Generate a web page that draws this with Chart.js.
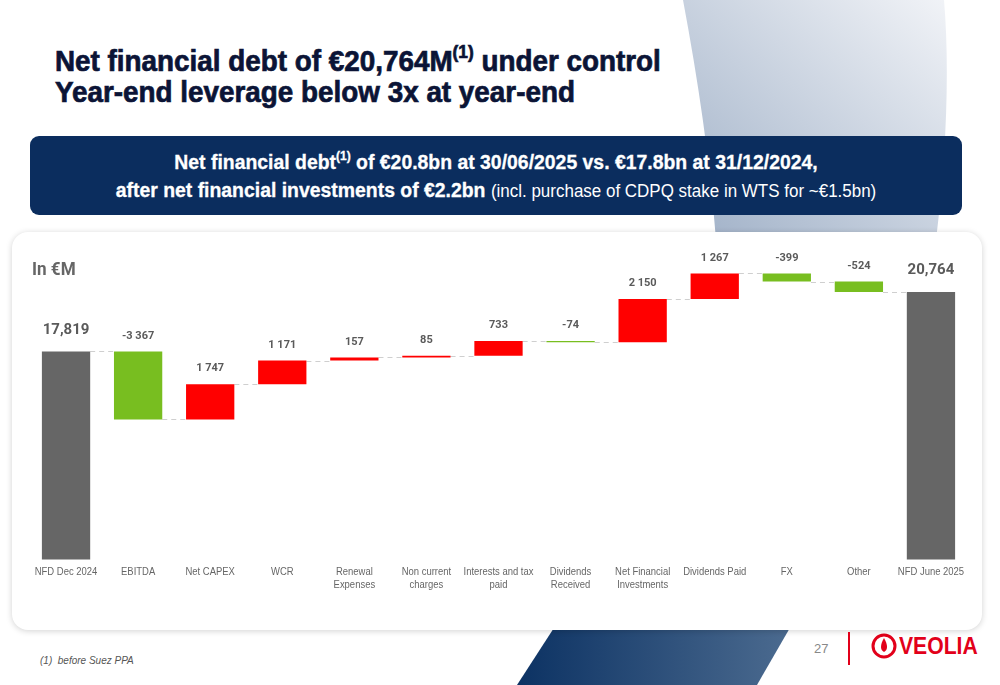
<!DOCTYPE html>
<html>
<head>
<meta charset="utf-8">
<script src="https://cdn.jsdelivr.net/npm/chart.js@4.4.1/dist/chart.umd.min.js"></script>
<style>
  body { margin: 0; width: 1000px; height: 685px; overflow: hidden; background: #fff; font-family: "Liberation Sans", Arial, sans-serif; }
  .abs { position: absolute; }
  #title { left: 55px; top: 46px; font-size: 29px; font-weight: bold; color: #0b1436; line-height: 31px; -webkit-text-stroke: 0.7px #0b1436; transform: scaleX(0.96); transform-origin: left top; white-space: nowrap; }
  #title sup, #banner sup { font-size: 62%; line-height: 0; vertical-align: 0.75em; }
  #banner { left: 30px; top: 136px; width: 932px; height: 79px; background: #0b2d5e; border-radius: 9px; }
  #bannerText { left: 0; top: 12px; width: 932px; text-align: center; color: #fff; font-size: 20px; line-height: 28px; font-weight: bold; -webkit-text-stroke: 0.3px #fff; transform: scaleX(0.97); transform-origin: center top; white-space: nowrap; }
  #bannerText .thin { font-weight: normal; font-size: 17.5px; -webkit-text-stroke: 0; }
  #card { left: 12px; top: 232px; width: 970px; height: 398px; background: #fff; border-radius: 16px; box-shadow: 0 1px 6px rgba(0,0,0,0.18); }
  #unit { left: 32px; top: 257px; font-family: Roboto, sans-serif; font-size: 19px; font-weight: bold; color: #666; transform: scaleX(0.9); transform-origin: left top; }
  #note { left: 40px; top: 655px; font-size: 10px; font-style: italic; color: #555; }
  #page { left: 814px; top: 641px; font-size: 13px; color: #888; }
  #sep { left: 848px; top: 632px; width: 2px; height: 33px; background: #e2001a; }
  #logoText { left: 899px; top: 633px; font-size: 23px; font-weight: bold; color: #e2001a; transform: scaleX(0.92); transform-origin: left top; }
</style>
</head>
<body>
<svg class="abs" style="left:0;top:0" width="1000" height="685">
  <defs>
    <linearGradient id="greyShape" x1="0" y1="1" x2="1" y2="0">
      <stop offset="0" stop-color="#9fb0c7"/>
      <stop offset="1" stop-color="#f1f3f7"/>
    </linearGradient>
    <linearGradient id="blueShape" x1="0" y1="0" x2="1" y2="0">
      <stop offset="0" stop-color="#0c3263"/>
      <stop offset="1" stop-color="#4f6e92"/>
    </linearGradient>
  </defs>
  <path d="M 683 0 C 698 80, 710 160, 716 240 L 936 240 C 946 160, 950 70, 944 0 Z" fill="url(#greyShape)"/>
  <polygon points="572,600 806,600 757,685 517,685" fill="url(#blueShape)"/>
  <circle cx="884" cy="646" r="11" fill="none" stroke="#e2001a" stroke-width="3"/>
  <path d="M 884 638 C 880 645, 880 650, 884 652 C 888 650, 888 645, 884 638 Z" fill="#e2001a"/>
</svg>

<div id="title" class="abs">Net financial debt of €20,764M<sup>(1)</sup> under control<br>Year-end leverage below 3x at year-end</div>

<div id="banner" class="abs">
  <div id="bannerText" class="abs">Net financial debt<sup>(1)</sup> of €20.8bn at 30/06/2025 vs. €17.8bn at 31/12/2024,<br>after net financial investments of €2.2bn <span class="thin">(incl. purchase of CDPQ stake in WTS for ~€1.5bn)</span></div>
</div>

<div id="card" class="abs">
  <canvas id="chart" width="970" height="398"></canvas>
</div>
<div id="unit" class="abs">In €M</div>

<div id="note" class="abs">(1)&nbsp; before Suez PPA</div>
<div id="page" class="abs">27</div>
<div id="sep" class="abs"></div>
<div id="logoText" class="abs">VEOLIA</div>

<script>
// Waterfall data (€M)
const categories = [
  'NFD Dec 2024', 'EBITDA', 'Net CAPEX', 'WCR', ['Renewal', 'Expenses'], ['Non current', 'charges'],
  ['Interests and tax', 'paid'], ['Dividends', 'Received'], ['Net Financial', 'Investments'],
  'Dividends Paid', 'FX', 'Other', 'NFD June 2025'
];
const startValue = 17819;
const endValue = 20764;
const deltas = [-3367, 1747, 1171, 157, 85, 733, -74, 2150, 1267, -399, -524];

const totalColor = '#666666';
const upColor = '#ff0000';
const downColor = '#78be20';

// Build floating bars from the running total
const ranges = [[0, startValue]];
const colors = [totalColor];
const levels = [startValue];
let running = startValue;
deltas.forEach(d => {
  const next = running + d;
  ranges.push([running, next]);
  colors.push(d >= 0 ? upColor : downColor);
  running = next;
  levels.push(running);
});
ranges.push([0, endValue]);
colors.push(totalColor);

const fmtDelta = v => (v < 0 ? '-' : '') + Math.abs(v).toString().replace(/\B(?=(\d{3})+(?!\d))/g, ' ');
const fmtTotal = v => v.toString().replace(/\B(?=(\d{3})+(?!\d))/g, ',');

// Dashed connectors between bars
const connectorPlugin = {
  id: 'connectors',
  beforeDatasetsDraw(chart) {
    const ctx = chart.ctx;
    const meta = chart.getDatasetMeta(0);
    const y = chart.scales.y;
    ctx.save();
    ctx.strokeStyle = '#cfcfcf';
    ctx.lineWidth = 1;
    ctx.setLineDash([5, 4]);
    for (let i = 0; i < meta.data.length - 1; i++) {
      const a = meta.data[i], b = meta.data[i + 1];
      const py = Math.round(y.getPixelForValue(i === meta.data.length - 2 ? endValue : levels[i])) + 0.5;
      ctx.beginPath();
      ctx.moveTo(a.x + a.width / 2, py);
      ctx.lineTo(b.x - b.width / 2, py);
      ctx.stroke();
    }
    ctx.restore();
  }
};

// Value labels above each bar
const labelPlugin = {
  id: 'valueLabels',
  afterDatasetsDraw(chart) {
    const ctx = chart.ctx;
    const meta = chart.getDatasetMeta(0);
    const y = chart.scales.y;
    ctx.save();
    ctx.textAlign = 'center';
    ctx.textBaseline = 'bottom';
    ctx.fillStyle = '#5a5a5a';
    meta.data.forEach((bar, i) => {
      const top = y.getPixelForValue(Math.max(ranges[i][0], ranges[i][1]));
      const isTotal = i === 0 || i === meta.data.length - 1;
      if (isTotal) {
        ctx.font = 'bold 15px Roboto, sans-serif';
        ctx.fillText(fmtTotal(ranges[i][1]), bar.x, top - 14);
      } else {
        ctx.font = 'bold 11px Roboto, sans-serif';
        ctx.fillText(fmtDelta(deltas[i - 1]), bar.x, top - 10);
      }
    });
    ctx.restore();
  }
};

// Category labels drawn slightly condensed, at the x scale's tick positions
const narrowTicksPlugin = {
  id: 'narrowTicks',
  afterDraw(chart) {
    const ctx = chart.ctx;
    const x = chart.scales.x;
    const base = chart.chartArea.bottom + 12;
    ctx.save();
    ctx.fillStyle = '#666';
    ctx.font = '11px "Liberation Sans", Arial, sans-serif';
    ctx.textAlign = 'center';
    ctx.textBaseline = 'middle';
    categories.forEach((label, i) => {
      const lines = Array.isArray(label) ? label : [label];
      const px = x.getPixelForValue(i);
      lines.forEach((line, j) => {
        ctx.save();
        ctx.translate(px, base + j * 13);
        ctx.scale(0.86, 1);
        ctx.fillText(line, 0, 0);
        ctx.restore();
      });
    });
    ctx.restore();
  }
};

new Chart(document.getElementById('chart'), {
  type: 'bar',
  data: {
    labels: categories,
    datasets: [{
      data: ranges,
      backgroundColor: colors,
      borderWidth: 0,
      borderSkipped: false,
      categoryPercentage: 1,
      barPercentage: 0.67
    }]
  },
  options: {
    responsive: false,
    animation: false,
    layout: { padding: { left: 18, right: 15, top: 15, bottom: 36 } },
    plugins: { legend: { display: false }, tooltip: { enabled: false } },
    scales: {
      x: {
        grid: { display: false },
        border: { display: false },
        ticks: {
          color: 'rgba(0,0,0,0)',
          font: { family: '"Liberation Sans", Arial, sans-serif', size: 11 },
          maxRotation: 0,
          autoSkip: false,
          padding: 0
        }
      },
      y: { display: false, min: 7500, max: 23000 }
    }
  },
  plugins: [connectorPlugin, labelPlugin, narrowTicksPlugin]
});
</script>
</body>
</html>
